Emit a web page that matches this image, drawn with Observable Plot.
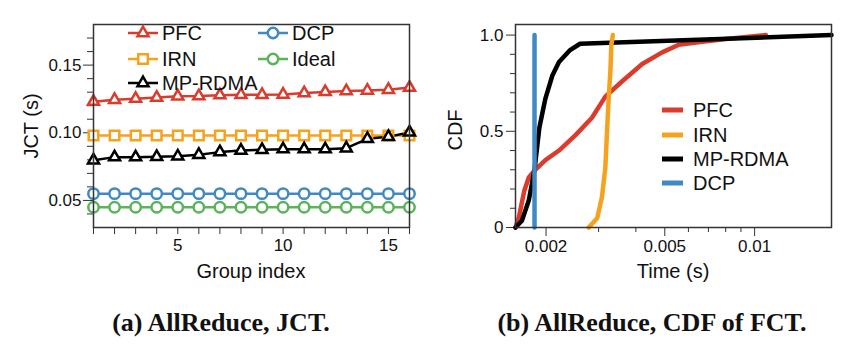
<!DOCTYPE html>
<html><head><meta charset="utf-8">
<script src="https://cdn.jsdelivr.net/npm/d3@7"></script>
<script src="https://cdn.jsdelivr.net/npm/@observablehq/plot@0.6"></script>
<style>
body{margin:0;background:#fff;}
#wrap{position:relative;width:850px;height:351px;overflow:hidden;font-family:"Liberation Sans",Arial,sans-serif;color:#111;}
.panel{position:absolute;top:0;}
.cap{position:absolute;top:310px;font-family:"Liberation Serif","Times New Roman",serif;font-weight:bold;font-size:26px;line-height:26px;color:#111;white-space:nowrap;transform:translateX(-50%);}
.lab{position:absolute;font-size:20px;line-height:24px;white-space:nowrap;transform:translate(-50%,-50%);}
.item{position:absolute;height:24px;display:flex;align-items:center;font-size:20px;white-space:nowrap;}
.item svg{display:block;}
</style></head><body><div id="wrap"></div>
<script>
// ---------- Panel (a): JCT per group ----------
const groups = [1,2,3,4,5,6,7,8,9,10,11,12,13,14,15,16];
const jctPFC   = [0.1230,0.1244,0.1252,0.1260,0.1270,0.1271,0.1278,0.1280,0.1280,0.1283,0.1293,0.1302,0.1308,0.1312,0.1318,0.1334];
const jctIRN   = [0.098,0.098,0.098,0.098,0.098,0.098,0.098,0.098,0.098,0.098,0.098,0.098,0.098,0.098,0.098,0.098];
const jctMP    = [0.0797,0.0820,0.0820,0.0822,0.0826,0.0838,0.0857,0.0869,0.0874,0.0879,0.0879,0.0879,0.0886,0.0955,0.0970,0.1003];
const jctDCP   = [0.055,0.055,0.055,0.055,0.055,0.055,0.055,0.055,0.055,0.055,0.055,0.055,0.055,0.055,0.055,0.055];
const jctIdeal = [0.045,0.045,0.045,0.045,0.045,0.045,0.045,0.045,0.045,0.045,0.045,0.045,0.045,0.045,0.045,0.045];
const leftYMajor = [0.05,0.10,0.15];
const leftYMinor = [0.04,0.06,0.07,0.08,0.09,0.11,0.12,0.13,0.14,0.16,0.17];
const leftXLabeled = [5,10,15];

// ---------- Panel (b): CDF of FCT ----------
const pfcT = [0.00158,0.00162,0.00169,0.00175,0.00184,0.00199,0.00221,0.00251,0.00285,0.00316,0.0036,0.0042,0.0049,0.00557,0.00667,0.0080,0.0109];
const pfcC = [0,0.05,0.19,0.26,0.30,0.35,0.40,0.48,0.57,0.68,0.76,0.85,0.91,0.95,0.965,0.98,1.0];
const irnT = [0.00278,0.00297,0.00308,0.00316,0.0032,0.00324,0.00329,0.00331,0.00335];
const irnC = [0,0.05,0.16,0.31,0.49,0.66,0.83,0.95,1.0];
const mpT  = [0.00158,0.00166,0.00175,0.00183,0.0019,0.00199,0.0021,0.00221,0.0024,0.0026,0.0181];
const mpC  = [0,0.035,0.14,0.30,0.52,0.67,0.79,0.86,0.92,0.955,1.0];
const dcpT = [0.00183,0.00183];
const dcpC = [0,1];
const rightXMajor = [0.002,0.005,0.01];
const rightXMinor = [0.003,0.004,0.006,0.007,0.008,0.009];
const rightYMajor = [0,0.5,1.0];
const rightYMinor = [0.1,0.2,0.3,0.4,0.6,0.7,0.8,0.9];

const C = {PFC:"#da3b2c", IRN:"#f6a21c", MP:"#000000", DCP:"#4189c4", Ideal:"#5bb35a"};
const FONT = '"Liberation Sans", Arial, sans-serif';

const wrap = document.getElementById("wrap");

// Left plot
const leftSeries = [
  {name:"PFC", vals:jctPFC, color:C.PFC, symbol:"triangle", r:4.1},
  {name:"IRN", vals:jctIRN, color:C.IRN, symbol:"square", r:5.4},
  {name:"MP-RDMA", vals:jctMP, color:C.MP, symbol:"triangle", r:4.1},
  {name:"DCP", vals:jctDCP, color:C.DCP, symbol:"circle", r:5.2},
  {name:"Ideal", vals:jctIdeal, color:C.Ideal, symbol:"circle", r:5.2}
];
const leftMarks = [];
for (const s of leftSeries) {
  const rows = groups.map((g,i)=>({g, v:s.vals[i]}));
  leftMarks.push(Plot.line(rows,{x:"g",y:"v",stroke:s.color,strokeWidth:2.5}));
}
for (const s of leftSeries) {
  const rows = groups.map((g,i)=>({g, v:s.vals[i]}));
  leftMarks.push(Plot.dot(rows,{x:"g",y:"v",stroke:s.color,fill:"white",strokeWidth:2.5,symbol:s.symbol,r:s.r}));
}
const left = Plot.plot({
  width:425, height:290, marginLeft:93, marginRight:16, marginTop:24, marginBottom:63,
  style:{fontFamily:FONT, fontSize:"17px", color:"#111", background:"transparent", overflow:"visible"},
  x:{domain:[1,16]},
  y:{domain:[0.03,0.18]},
  marks:[
    Plot.axisY({ticks:leftYMajor, tickSize:10, tickPadding:2, tickFormat:d3.format(".2f"), label:null, fontSize:17, stroke:"#333"}),
    Plot.axisY({ticks:leftYMinor, tickSize:6, text:null, label:null, stroke:"#333"}),
    Plot.axisX({ticks:groups, tickSize:7, tickPadding:4, tickFormat:d=>leftXLabeled.includes(d)?String(d):"", label:null, fontSize:17, stroke:"#333"}),
    ...leftMarks,
    Plot.frame({stroke:"#333", strokeWidth:1.5})
  ]
});
left.classList.add("panel"); left.style.left="0px";
wrap.appendChild(left);

// Right plot
const rightSeries = [
  {name:"PFC", t:pfcT, c:pfcC, color:C.PFC},
  {name:"MP-RDMA", t:mpT, c:mpC, color:C.MP},
  {name:"IRN", t:irnT, c:irnC, color:C.IRN},
  {name:"DCP", t:dcpT, c:dcpC, color:C.DCP}
];
const right = Plot.plot({
  width:425, height:290, marginLeft:90, marginRight:19, marginTop:24, marginBottom:63,
  style:{fontFamily:FONT, fontSize:"17px", color:"#111", background:"transparent", overflow:"visible"},
  x:{type:"log", domain:[0.00158,0.0181]},
  y:{domain:[0,1.055]},
  marks:[
    Plot.axisY({ticks:rightYMajor, tickSize:9, tickPadding:3, tickFormat:d=>d===0?"0":d3.format(".1f")(d), label:null, fontSize:17, stroke:"#333"}),
    Plot.axisY({ticks:rightYMinor, tickSize:5, text:null, label:null, stroke:"#333"}),
    Plot.axisX({ticks:rightXMajor, tickSize:9, tickPadding:3, tickFormat:d=>String(d), label:null, fontSize:17, stroke:"#333"}),
    Plot.axisX({ticks:rightXMinor, tickSize:5, text:null, label:null, stroke:"#333"}),
    ...rightSeries.map(s=>Plot.line(s.t.map((t,i)=>({t, c:s.c[i]})),{x:"t",y:"c",stroke:s.color,strokeWidth:4.5,strokeLinejoin:"round"})),
    Plot.frame({stroke:"#333", strokeWidth:1.5})
  ]
});
right.classList.add("panel"); right.style.left="425px";
wrap.appendChild(right);

// Axis labels
function label(text,x,y,rot){
  const d=document.createElement("div"); d.className="lab"; d.textContent=text;
  d.style.left=x+"px"; d.style.top=y+"px";
  if(rot) d.style.transform="translate(-50%,-50%) rotate(-90deg)";
  wrap.appendChild(d);
}
label("JCT (s)",31,126,true);
label("Group index",251,271,false);
label("CDF",455,130,true);
label("Time (s)",673,271,false);

// Legends
const NS="http://www.w3.org/2000/svg";
function swatch(color,w,sw,symbol,r){
  const svg=document.createElementNS(NS,"svg"); svg.setAttribute("width",w); svg.setAttribute("height",24);
  const l=document.createElementNS(NS,"line");
  l.setAttribute("x1",0);l.setAttribute("x2",w);l.setAttribute("y1",12);l.setAttribute("y2",12);
  l.setAttribute("stroke",color);l.setAttribute("stroke-width",sw);
  svg.appendChild(l);
  if(symbol){
    const p=document.createElementNS(NS,"path");
    const sym = symbol==="triangle"?d3.symbolTriangle:symbol==="square"?d3.symbolSquare:d3.symbolCircle;
    p.setAttribute("d",d3.symbol(sym,Math.PI*r*r)());
    p.setAttribute("transform",`translate(${w/2},12)`);
    p.setAttribute("fill","white");p.setAttribute("stroke",color);p.setAttribute("stroke-width",2.5);
    svg.appendChild(p);
  }
  return svg;
}
function item(name,color,x,y,w,gap,sw,symbol,r){
  const d=document.createElement("div"); d.className="item";
  d.style.left=x+"px"; d.style.top=(y-12)+"px";
  const sv=swatch(color,w,sw,symbol,r); sv.style.marginRight=gap+"px";
  d.appendChild(sv); d.appendChild(document.createTextNode(name));
  wrap.appendChild(d);
}
const leftLegend = [
  {s:leftSeries[0], x:128, y:33},
  {s:leftSeries[1], x:128, y:59},
  {s:leftSeries[2], x:128, y:83},
  {s:leftSeries[3], x:258, y:33},
  {s:leftSeries[4], x:258, y:59}
];
for(const e of leftLegend) item(e.s.name,e.s.color,e.x,e.y,30,4,2.5,e.s.symbol,e.s.r);
const rightLegendOrder = ["PFC","IRN","MP-RDMA","DCP"];
const rightLegendY = [110,135,159,183];
rightLegendOrder.forEach((n,i)=>{
  const s=rightSeries.find(d=>d.name===n);
  item(n,s.color,662,rightLegendY[i],21,10,5,null,0);
});

// Captions
function cap(text,x){
  const d=document.createElement("div"); d.className="cap"; d.textContent=text; d.style.left=x+"px"; wrap.appendChild(d);
}
cap("(a) AllReduce, JCT.",221);
cap("(b) AllReduce, CDF of FCT.",652);
</script>
</body></html>
